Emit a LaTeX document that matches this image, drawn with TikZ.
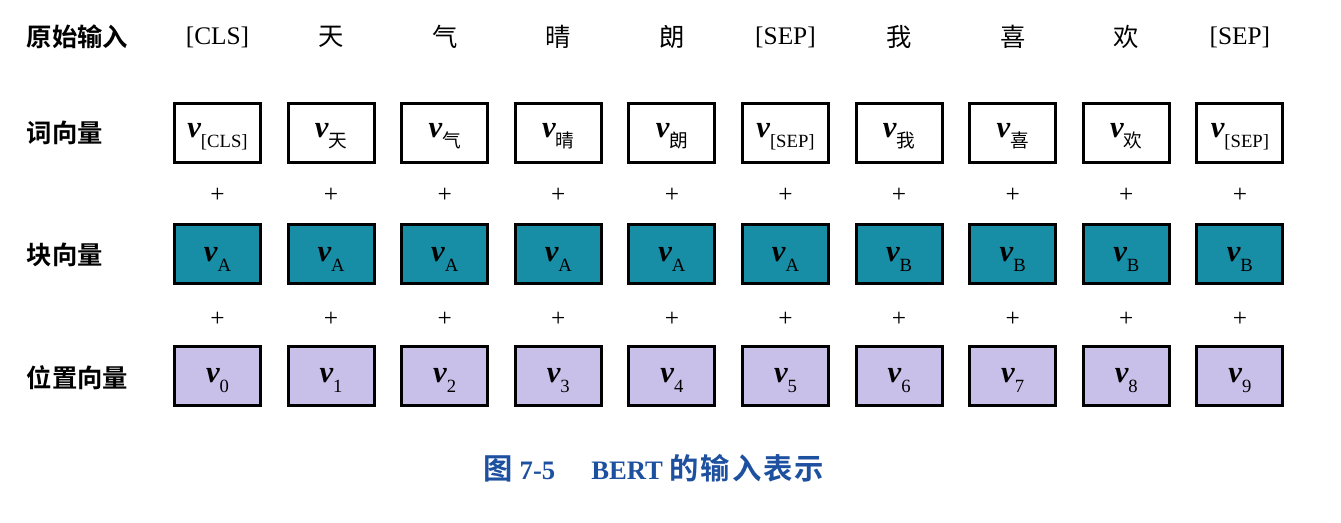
\documentclass[tikz,border=0pt]{standalone}
\usepackage{fontspec}
\setmainfont{Liberation Serif}
\newfontfamily\cjk[BoldFont={Noto Sans CJK SC Bold}]{Noto Sans CJK SC}
\usepackage{tikz}

\definecolor{segblue}{RGB}{24,142,166}
\definecolor{poslilac}{RGB}{200,192,232}
\definecolor{capblue}{RGB}{30,80,160}

\newcommand{\vvec}[1]{{\fontsize{23}{23}\selectfont\bfseries\itshape v}\raisebox{-7pt}{\fontsize{14}{14}\selectfont #1}}
\newcommand{\capgap}{\hspace{1.5pt}}

\begin{document}
\begin{tikzpicture}[x=0.75pt,y=-0.75pt,
        vbox/.style={draw,line width=2.2pt,minimum width=64.5pt,minimum height=44.25pt,inner sep=0pt,text depth=0pt},
        wordbox/.style={vbox,fill=white,text height=7.5pt},
        segbox/.style={vbox,fill=segblue,text height=12pt},
        posbox/.style={vbox,fill=poslilac,text height=10.5pt},
        rowlabel/.style={anchor=west,font=\cjk\bfseries\fontsize{19}{19}\selectfont},
        token/.style={font=\fontsize{19}{19}\selectfont},
        plussign/.style={font=\fontsize{19}{19}\selectfont}]
    \useasboundingbox (0,0) rectangle (1341,523);

    \node[rowlabel] (lraw) at (22,37) {原始输入};
    \node[rowlabel] (lword) at (22,133) {词向量};
    \node[rowlabel] (lseg) at (22,255) {块向量};
    \node[rowlabel] (lpos) at (22,378) {位置向量};

    \foreach \i/\tok/\seg in {0/{[CLS]}/A,1/{\cjk 天}/A,2/{\cjk 气}/A,3/{\cjk 晴}/A,4/{\cjk 朗}/A,
            5/{[SEP]}/A,6/{\cjk 我}/B,7/{\cjk 喜}/B,8/{\cjk 欢}/B,9/{[SEP]}/B}{
        \coordinate (col\i) at ({217.5+113.6*\i},0);
        \node[token] (tok\i) at ([yshift=-37*0.75pt]col\i) {\tok};
        \node[wordbox] (word\i) at ([yshift=-133*0.75pt]col\i) {\vvec{\tok}};
        \node[plussign] (plusa\i) at ([yshift=-195*0.75pt]col\i) {+};
        \node[segbox] (seg\i) at ([yshift=-254*0.75pt]col\i) {\vvec{\seg}};
        \node[plussign] (plusb\i) at ([yshift=-319*0.75pt]col\i) {+};
        \node[posbox] (pos\i) at ([yshift=-376*0.75pt]col\i) {\vvec{\i}};
    }

    \node[font=\fontsize{20}{20}\selectfont\bfseries,text=capblue] (caption) at (654,468)
        {{\cjk\fontsize{22}{22}\selectfont 图} 7-5\hspace{27pt}BERT {\cjk\fontsize{22}{22}\selectfont 的\capgap 输\capgap 入\capgap 表\capgap 示}};
\end{tikzpicture}
\end{document}
